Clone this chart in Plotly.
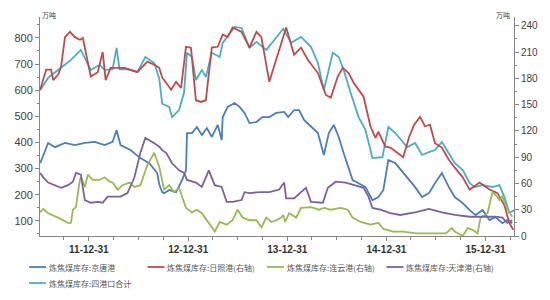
import pandas as pd
import plotly.graph_objects as go

# ---------------- data (time in decimal years) -------------
# 炼焦煤库存:京唐港 (left axis, 万吨)
jt_t = [2011.51, 2011.56, 2011.59, 2011.66, 2011.76, 2011.86, 2011.96, 2012.06, 2012.16, 2012.24,
        2012.28, 2012.32, 2012.42, 2012.52, 2012.61, 2012.69, 2012.71, 2012.74, 2012.76, 2012.81,
        2012.88, 2012.94, 2012.98, 2012.99, 2013.04, 2013.09, 2013.14, 2013.19, 2013.24, 2013.30,
        2013.34, 2013.35, 2013.40, 2013.47, 2013.52, 2013.57, 2013.62, 2013.69, 2013.75, 2013.82,
        2013.89, 2013.97, 2014.01, 2014.07, 2014.12, 2014.17, 2014.24, 2014.31, 2014.37, 2014.42,
        2014.47, 2014.52, 2014.57, 2014.62, 2014.66, 2014.72, 2014.79, 2014.86, 2014.92, 2014.97,
        2015.02, 2015.09, 2015.17, 2015.23, 2015.29, 2015.36, 2015.43, 2015.49, 2015.56, 2015.63,
        2015.69, 2015.77, 2015.84, 2015.90, 2015.97, 2016.04, 2016.10, 2016.17, 2016.22, 2016.27]
jt_v = [321, 371, 398, 382, 398, 390, 398, 402, 390, 402,
        447, 390, 371, 340, 321, 283, 240, 210, 206, 218,
        210, 256, 294, 436, 436, 459, 428, 455, 421, 467,
        409, 497, 536, 551, 536, 513, 474, 478, 497, 497,
        513, 517, 497, 524, 524, 486, 459, 436, 352, 436,
        467, 421, 359, 306, 256, 244, 229, 179, 191, 218,
        333, 321, 283, 256, 229, 191, 206, 244, 283, 229,
        191, 168, 141, 122, 141, 103, 114, 91, 103, 91]

# 炼焦煤库存:日照港 (right axis)
rz_t = [2011.51, 2011.57, 2011.62, 2011.64, 2011.69, 2011.72, 2011.76, 2011.81, 2011.86, 2011.91,
        2011.94, 2011.97, 2012.02, 2012.09, 2012.14, 2012.17, 2012.22, 2012.29, 2012.36, 2012.49,
        2012.59, 2012.67, 2012.71, 2012.74, 2012.76, 2012.83, 2012.88, 2012.93, 2012.98, 2013.03,
        2013.08, 2013.13, 2013.18, 2013.24, 2013.30, 2013.35, 2013.40, 2013.45, 2013.54, 2013.62,
        2013.69, 2013.74, 2013.82, 2013.89, 2013.96, 2013.99, 2014.07, 2014.14, 2014.21, 2014.31,
        2014.39, 2014.44, 2014.51, 2014.56, 2014.62, 2014.67, 2014.77, 2014.84, 2014.89, 2014.92,
        2014.99, 2015.04, 2015.11, 2015.17, 2015.23, 2015.28, 2015.34, 2015.39, 2015.44, 2015.49,
        2015.56, 2015.63, 2015.69, 2015.77, 2015.84, 2015.94, 2016.04, 2016.12, 2016.19, 2016.24,
        2016.28]
rz_v = [167, 190, 190, 178, 184, 193, 227, 233, 227, 224,
        226, 209, 182, 187, 210, 178, 192, 192, 192, 187,
        199, 195, 192, 181, 178, 167, 176, 169, 216, 215,
        155, 153, 155, 215, 216, 230, 227, 238, 233, 215,
        233, 227, 176, 201, 226, 238, 207, 215, 201, 186,
        161, 158, 182, 192, 186, 175, 159, 125, 112, 119,
        102, 101, 95, 90, 113, 127, 136, 125, 127, 106,
        101, 87, 78, 67, 53, 61, 53, 49, 35, 15,
        7]

# 炼焦煤库存:连云港 (right axis)
ly_t = [2011.51, 2011.54, 2011.59, 2011.69, 2011.79, 2011.82, 2011.84, 2011.87, 2011.91, 2011.92,
        2011.96, 2011.99, 2012.04, 2012.11, 2012.16, 2012.21, 2012.24, 2012.29, 2012.34, 2012.41,
        2012.46, 2012.52, 2012.59, 2012.66, 2012.71, 2012.74, 2012.76, 2012.81, 2012.86, 2012.91,
        2012.98, 2013.04, 2013.09, 2013.14, 2013.19, 2013.27, 2013.32, 2013.39, 2013.45, 2013.50,
        2013.55, 2013.62, 2013.69, 2013.74, 2013.79, 2013.84, 2013.89, 2013.94, 2013.96, 2013.98,
        2014.02, 2014.09, 2014.14, 2014.24, 2014.32, 2014.37, 2014.44, 2014.54, 2014.61, 2014.66,
        2014.74, 2014.84, 2014.92, 2014.97, 2015.07, 2015.17, 2015.30, 2015.45, 2015.60, 2015.66,
        2015.69, 2015.77, 2015.82, 2015.87, 2015.92, 2015.95, 2016.02, 2016.07, 2016.10, 2016.14,
        2016.17, 2016.22, 2016.27]
ly_v = [27, 31, 26, 21, 15, 15, 30, 33, 64, 67,
        56, 70, 64, 64, 67, 62, 61, 53, 58, 61,
        56, 58, 81, 95, 79, 64, 53, 58, 50, 55,
        32, 27, 30, 26, 18, 5, 16, 13, 18, 30,
        21, 18, 18, 10, 21, 16, 18, 21, 24, 16,
        26, 21, 32, 33, 30, 32, 30, 32, 30, 21,
        16, 13, 15, 8, 5, 5, 3, 3, 3, 9,
        5, 0, 9, 7, 3, 21, 26, 50, 47, 41,
        45, 30, 22]

# 炼焦煤库存:天津港 (right axis)
tj_t = [2011.51, 2011.54, 2011.59, 2011.66, 2011.72, 2011.79, 2011.84, 2011.87, 2011.92, 2011.96,
        2012.02, 2012.09, 2012.14, 2012.19, 2012.26, 2012.32, 2012.39, 2012.46, 2012.52, 2012.57,
        2012.66, 2012.71, 2012.74, 2012.78, 2012.84, 2012.91, 2012.96, 2012.99, 2013.08, 2013.14,
        2013.21, 2013.27, 2013.34, 2013.39, 2013.45, 2013.54, 2013.57, 2013.62, 2013.72, 2013.82,
        2013.92, 2013.97, 2013.99, 2014.07, 2014.14, 2014.19, 2014.24, 2014.36, 2014.41, 2014.49,
        2014.59, 2014.67, 2014.77, 2014.82, 2014.86, 2014.94, 2015.04, 2015.14, 2015.29, 2015.43,
        2015.56, 2015.69, 2015.84, 2015.97, 2016.10, 2016.17, 2016.22, 2016.27]
tj_v = [72, 67, 61, 58, 55, 58, 62, 72, 70, 41,
        38, 39, 38, 45, 45, 45, 49, 67, 95, 112,
        106, 102, 98, 95, 83, 75, 72, 64, 61, 56,
        75, 58, 56, 39, 39, 41, 50, 49, 50, 50,
        53, 61, 43, 43, 50, 55, 39, 38, 55, 62,
        61, 58, 55, 45, 32, 30, 26, 24, 27, 31,
        27, 24, 22, 22, 22, 21, 15, 18]

# 炼焦煤库存:四港口合计 (left axis)
sg_t = [2011.51, 2011.59, 2011.69, 2011.82, 2011.92, 2011.99, 2012.02, 2012.11, 2012.16, 2012.24,
        2012.28, 2012.31, 2012.39, 2012.49, 2012.57, 2012.66, 2012.71, 2012.74, 2012.81, 2012.84,
        2012.91, 2012.96, 2012.99, 2013.04, 2013.08, 2013.14, 2013.18, 2013.24, 2013.32, 2013.35,
        2013.42, 2013.47, 2013.54, 2013.62, 2013.69, 2013.79, 2013.87, 2013.96, 2014.04, 2014.14,
        2014.24, 2014.31, 2014.37, 2014.46, 2014.52, 2014.57, 2014.64, 2014.72, 2014.79, 2014.86,
        2014.96, 2015.02, 2015.09, 2015.17, 2015.21, 2015.29, 2015.36, 2015.43, 2015.49, 2015.56,
        2015.63, 2015.69, 2015.77, 2015.84, 2015.89, 2015.97, 2016.07, 2016.14, 2016.19, 2016.24,
        2016.29]
sg_v = [600, 647, 677, 716, 754, 697, 677, 697, 677, 680,
        762, 680, 680, 670, 727, 704, 645, 548, 536, 497,
        524, 590, 743, 727, 639, 677, 650, 743, 727, 781,
        819, 842, 838, 762, 785, 754, 792, 835, 781, 804,
        766, 704, 600, 743, 727, 677, 590, 497, 447, 340,
        344, 459, 436, 398, 382, 398, 352, 363, 371, 402,
        359, 321, 294, 244, 229, 237, 229, 237, 191, 130,
        141]

series_names = ["炼焦煤库存:京唐港", "炼焦煤库存:日照港(右轴)", "炼焦煤库存:连云港(右轴)",
                "炼焦煤库存:天津港(右轴)", "炼焦煤库存:四港口合计"]
series_colors = ["#4A7EBB", "#BE4B48", "#98B954", "#7D60A0", "#4BACC6"]

x_tick_dates = ["2011-12-31", "2012-12-31", "2013-12-31", "2014-12-31", "2015-12-31"]
x_tick_text = ["11-12-31", "12-12-31", "13-12-31", "14-12-31", "15-12-31"]
unit_label = "万吨"


def to_dates(ts):
    base = pd.Timestamp("2011-12-31")
    return [base + pd.Timedelta(days=(t - 2012.0) * 365.25) for t in ts]


series = [(jt_t, jt_v, "y"), (rz_t, rz_v, "y2"), (ly_t, ly_v, "y2"),
          (tj_t, tj_v, "y2"), (sg_t, sg_v, "y")]

fig = go.Figure()
for (ts, vs, ax), name, col in zip(series, series_names, series_colors):
    fig.add_trace(go.Scatter(x=to_dates(ts), y=vs, name=name, yaxis=ax, mode="lines",
                             line=dict(color=col, width=1.8), showlegend=False))

# plot-area pixel geometry helpers
L, R, T, B = 40, 516, 17, 236
def px_x(p):
    return (p - L) / (R - L)
def px_y(p):
    return (B - p) / (B - T)

axis_col = "#868686"
tick_font = dict(family="Liberation Sans", size=10, color="#404040")
quarters = [d.strftime("%Y-%m-%d") for d in pd.date_range("2011-09-30", "2016-03-31", freq="QE")]

fig.update_layout(
    width=550, height=300,
    margin=dict(l=L, r=550 - R, t=T, b=300 - B),
    paper_bgcolor="white", plot_bgcolor="white",
    xaxis=dict(type="date", range=to_dates([2011.508, 2016.287]),
               tickmode="array", tickvals=x_tick_dates, ticktext=x_tick_text,
               ticks="outside", ticklen=4, tickcolor=axis_col, showline=True,
               linecolor=axis_col, linewidth=1, showgrid=False, zeroline=False,
               tickfont=dict(family="Liberation Sans", size=10, color="#333333", weight="bold"),
               minor=dict(tickmode="array", tickvals=quarters, ticks="outside", ticklen=3,
                          tickcolor=axis_col, showgrid=False)),
    yaxis=dict(range=[42, 880], tickmode="linear", tick0=0, dtick=100,
               ticks="outside", ticklen=4, tickcolor=axis_col, showline=True,
               linecolor=axis_col, linewidth=1, showgrid=False, zeroline=False,
               tickfont=dict(family="Liberation Sans", size=11, color="#404040"),
               minor=dict(dtick=50, ticks="outside", ticklen=2, tickcolor=axis_col, showgrid=False)),
    yaxis2=dict(range=[0, 250], tickmode="linear", tick0=0, dtick=30, overlaying="y",
                side="right", ticks="outside", ticklen=4, tickcolor=axis_col, showline=True,
                linecolor=axis_col, linewidth=1, showgrid=False, zeroline=False,
                tickfont=tick_font,
                minor=dict(dtick=15, ticks="outside", ticklen=2, tickcolor=axis_col, showgrid=False)),
)

anns = [
    dict(text=unit_label, x=px_x(40), y=px_y(15), xref="paper", yref="paper", xanchor="left",
         yanchor="middle", showarrow=False,
         font=dict(family="Noto Sans CJK SC", size=7, color="#404040")),
    dict(text=unit_label, x=px_x(514), y=px_y(15), xref="paper", yref="paper", xanchor="right",
         yanchor="middle", showarrow=False,
         font=dict(family="Noto Sans CJK SC", size=7, color="#404040")),
]

# manual legend (line swatch + text)
legend_pos = [(29, 267), (148, 267), (268, 267), (388, 267), (29, 283)]
shapes = []
for (lx, ly), name, col in zip(legend_pos, series_names, series_colors):
    shapes.append(dict(type="line", xref="paper", yref="paper",
                       x0=px_x(lx), x1=px_x(lx + 17), y0=px_y(ly), y1=px_y(ly),
                       line=dict(color=col, width=1.8)))
    anns.append(dict(text=name, x=px_x(lx + 18), y=px_y(ly), xref="paper", yref="paper",
                     xanchor="left", yanchor="middle", showarrow=False,
                     font=dict(family="Noto Sans CJK SC", size=8, color="#595959")))

fig.update_layout(annotations=anns, shapes=shapes)
fig.write_html("out.html")
